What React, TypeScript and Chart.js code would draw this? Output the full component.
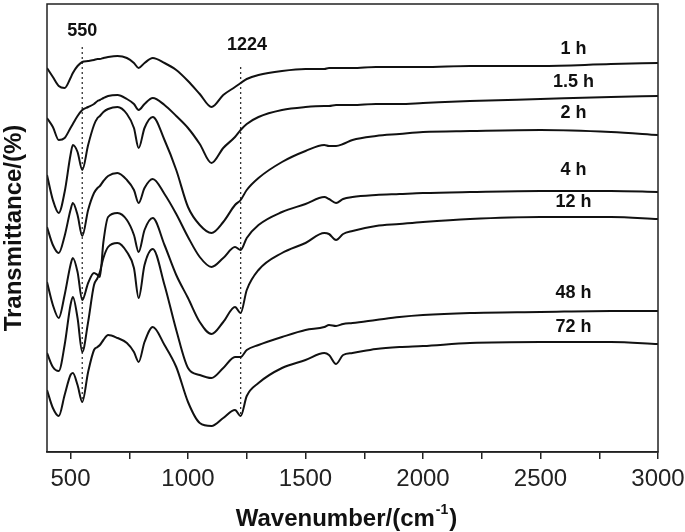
import { useEffect, useRef } from "react";
import { Chart, registerables } from "chart.js";

Chart.register(...registerables);

// Wavenumber sampling (cm^-1)
const wavenumbers = [
  400, 425, 450, 475, 500, 510, 530, 550, 575, 600,
  615, 625, 640, 660, 700, 740, 770, 790, 815, 850,
  900, 950, 1000, 1050, 1100, 1150, 1200, 1224, 1250, 1300,
  1400, 1500, 1580, 1600, 1630, 1660, 1700, 1800, 1900, 2000,
  2200, 2500, 2800, 3000,
];

// Offset transmittance (arbitrary units, stacked)
const t1h = [
  384, 375, 366, 364, 374, 379, 386, 390, 391, 392,
  393, 393, 394, 395, 396, 394, 389, 384, 389, 394,
  389, 382, 371, 358, 345, 357, 365, 369, 373, 377,
  381, 383, 383, 384, 384, 384, 384, 385, 385, 385,
  386, 386, 388, 389,
];
const t1_5h = [
  334, 325, 312, 314, 324, 328, 336, 342, 345, 348,
  351, 352, 354, 356, 357, 353, 348, 342, 348, 354,
  347, 336, 324, 308, 289, 304, 315, 322, 328, 335,
  342, 345, 346, 346, 347, 347, 347, 348, 348, 349,
  351, 353, 355, 356,
];
const t2h = [
  277, 252, 239, 260, 297, 307, 300, 282, 307, 327,
  334, 336, 340, 343, 345, 338, 324, 304, 324, 335,
  312, 282, 245, 227, 219, 230, 247, 252, 262, 274,
  290, 301, 307, 306, 306, 308, 312, 316, 318, 320,
  321, 322, 320, 317,
];
const t4h = [
  225, 207, 199, 216, 242, 249, 237, 216, 242, 259,
  264, 266, 271, 276, 279, 272, 262, 249, 264, 273,
  258, 238, 215, 195, 185, 194, 205, 202, 214, 227,
  240, 248, 255, 253, 249, 253, 255, 257, 258, 259,
  260, 261, 261, 260,
];
const t12h = [
  170, 147, 134, 157, 187, 194, 180, 152, 169, 179,
  177, 175, 210, 235, 239, 232, 217, 200, 222, 234,
  207, 177, 154, 130, 118, 130, 145, 139, 162, 182,
  199, 209, 219, 218, 212, 218, 221, 226, 228, 230,
  233, 235, 235, 233,
];
const t48h = [
  99, 85, 81, 107, 147, 155, 134, 100, 130, 167,
  174, 180, 194, 205, 209, 200, 184, 154, 187, 203,
  167, 122, 84, 77, 74, 84, 95, 95, 102, 107,
  115, 122, 125, 127, 126, 128, 129, 132, 135, 137,
  139, 140, 141, 141,
];
const t72h = [
  62, 44, 36, 57, 77, 79, 67, 50, 80, 102,
  105, 107, 112, 117, 114, 109, 100, 90, 110, 125,
  107, 85, 50, 29, 26, 34, 42, 36, 56, 69,
  84, 92, 99, 97, 88, 97, 99, 103, 105, 106,
  109, 110, 110, 108,
];

const seriesNames = ["1 h", "1.5 h", "2 h", "4 h", "12 h", "48 h", "72 h"];
const seriesValues = [t1h, t1_5h, t2h, t4h, t12h, t48h, t72h];

// Curve name annotations (data coordinates)
const nameWavenumber = 2640;
const nameLevels = [403, 370, 339, 282, 250, 159, 125];

// Marked bands
const bandLabels = ["550", "1224"];
const bandPositions = [550, 1224];
const bandTops = [405, 385];
const bandBottoms = [52, 37];
const bandLabelWavenumbers = [550, 1251];
const bandLabelLevels = [421, 407];

const xTitleMain = "Wavenumber/(cm";
const xTitleSup = "-1";
const xTitleEnd = ")";
const yTitle = "Transmittance/(%)";

const FONT = '"Liberation Sans", Arial, Helvetica, sans-serif';

const annotatePlugin = {
  id: "annotate",
  afterDatasetsDraw(chart: any) {
    const { ctx, chartArea, scales } = chart;
    const xs = scales.x;
    const ys = scales.y;
    ctx.save();
    ctx.strokeStyle = "#222";
    ctx.lineWidth = 1.5;
    ctx.strokeRect(
      chartArea.left,
      chartArea.top,
      chartArea.right - chartArea.left,
      chartArea.bottom - chartArea.top
    );
    ctx.fillStyle = "#111";
    ctx.textAlign = "center";
    ctx.textBaseline = "middle";
    ctx.font = `bold 18px ${FONT}`;
    seriesNames.forEach((n, i) => {
      ctx.fillText(n, xs.getPixelForValue(nameWavenumber), ys.getPixelForValue(nameLevels[i]));
    });
    bandLabels.forEach((n, i) => {
      ctx.fillText(n, xs.getPixelForValue(bandLabelWavenumbers[i]), ys.getPixelForValue(bandLabelLevels[i]));
    });
    // x title with superscript
    ctx.textAlign = "left";
    ctx.textBaseline = "alphabetic";
    const mainFont = `bold 24px ${FONT}`;
    const supFont = `bold 14px ${FONT}`;
    ctx.font = mainFont;
    const w1 = ctx.measureText(xTitleMain).width;
    const w3 = ctx.measureText(xTitleEnd).width;
    ctx.font = supFont;
    const w2 = ctx.measureText(xTitleSup).width;
    const total = w1 + w2 + w3 + 2;
    const cx = (chartArea.left + chartArea.right) / 2 - 6;
    let x0 = cx - total / 2;
    const base = 526;
    ctx.font = mainFont;
    ctx.fillText(xTitleMain, x0, base);
    x0 += w1 + 1;
    ctx.font = supFont;
    ctx.fillText(xTitleSup, x0, base - 12);
    x0 += w2 + 1;
    ctx.font = mainFont;
    ctx.fillText(xTitleEnd, x0, base);
    ctx.restore();
  },
};

export default function App() {
  const canvasRef = useRef<HTMLCanvasElement | null>(null);

  useEffect(() => {
    if (!canvasRef.current) return;
    const curveSets = seriesValues.map((vals, i) => ({
      label: seriesNames[i],
      data: wavenumbers.map((w, j) => ({ x: w, y: vals[j] })),
      borderColor: "#111",
      borderWidth: 2,
      pointRadius: 0,
      cubicInterpolationMode: "monotone" as const,
      fill: false,
    }));
    const bandSets = bandPositions.map((b, i) => ({
      label: "band " + bandLabels[i],
      data: [
        { x: b, y: bandTops[i] },
        { x: b, y: bandBottoms[i] },
      ],
      borderColor: "#333",
      borderWidth: 1.3,
      borderDash: [2, 3],
      pointRadius: 0,
      fill: false,
    }));

    const chart = new Chart(canvasRef.current, {
      type: "line",
      data: { datasets: [...curveSets, ...bandSets] },
      options: {
        animation: false,
        responsive: false,
        maintainAspectRatio: false,
        layout: { padding: { top: 4, right: 27, left: 0, bottom: 0 } },
        plugins: {
          legend: { display: false },
          tooltip: { enabled: false },
        },
        scales: {
          x: {
            type: "linear",
            min: 400,
            max: 3000,
            afterFit: (s: any) => {
              s.height = 80;
              s.paddingLeft = 0;
              s.paddingRight = 0;
            },
            ticks: {
              stepSize: 250,
              includeBounds: false,
              autoSkip: false,
              maxRotation: 0,
              padding: 6,
              color: "#222",
              font: { family: FONT, size: 24 },
              callback: (v: any) => (Number(v) % 500 === 0 ? String(v) : ""),
            },
            grid: {
              display: true,
              drawOnChartArea: false,
              drawTicks: true,
              tickLength: 7,
              color: "#222",
              lineWidth: 1.5,
            },
            border: { display: true, color: "#222", width: 1.5 },
          },
          y: {
            type: "linear",
            min: 0,
            max: 448,
            afterFit: (s: any) => {
              s.width = 47;
            },
            ticks: { display: false },
            grid: { display: false, drawTicks: false },
            border: { display: false },
            title: {
              display: true,
              text: yTitle,
              color: "#111",
              font: { family: FONT, size: 24, weight: "bold" },
              padding: { top: 0, bottom: 0 },
            },
          },
        },
      },
      plugins: [annotatePlugin],
    });
    return () => chart.destroy();
  }, []);

  return (
    <div style={{ position: "fixed", left: 0, top: 0, width: 685, height: 532, background: "#fff" }}>
      <canvas ref={canvasRef} width={685} height={532} style={{ display: "block" }} />
    </div>
  );
}
